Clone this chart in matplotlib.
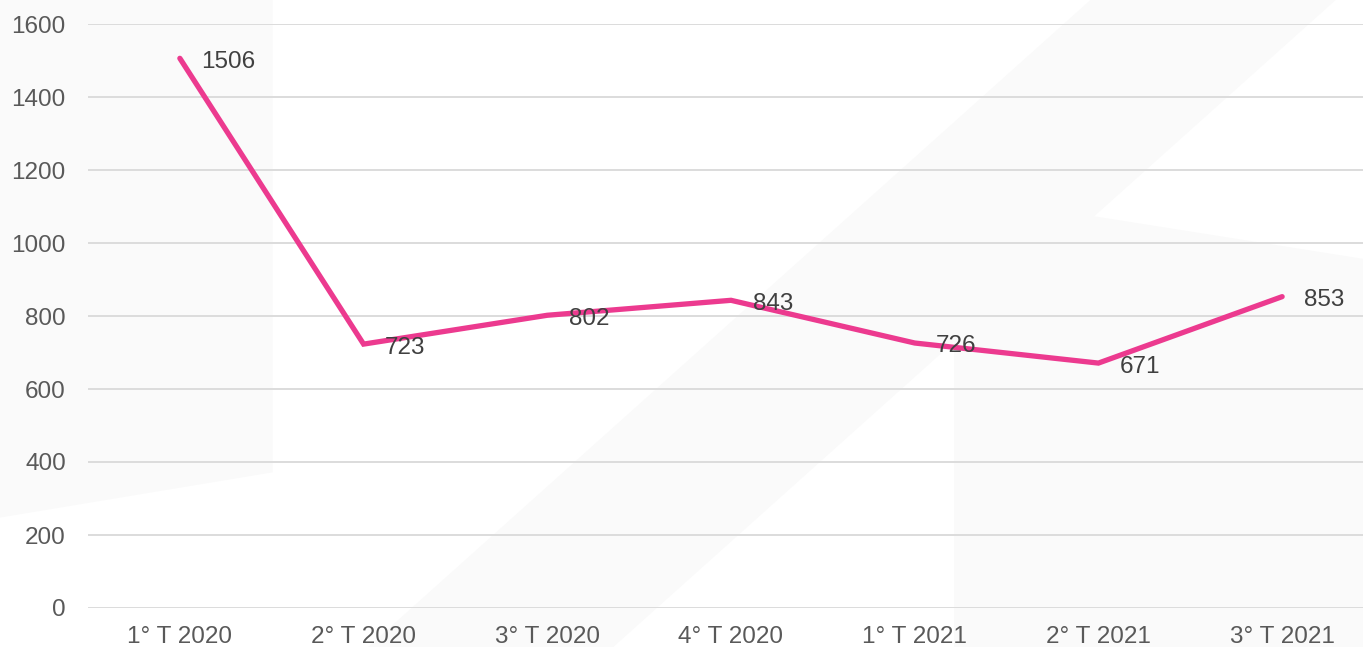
import matplotlib
matplotlib.use("Agg")
import matplotlib.pyplot as plt
from matplotlib.patches import Polygon

categories = ["1° T 2020", "2° T 2020", "3° T 2020", "4° T 2020", "1° T 2021", "2° T 2021", "3° T 2021"]
values = [1506, 723, 802, 843, 726, 671, 853]
yticks = [0, 200, 400, 600, 800, 1000, 1200, 1400, 1600]

plt.rcParams['font.family'] = ['Liberation Sans', 'DejaVu Sans']

fig = plt.figure(figsize=(13.63, 6.47), dpi=100)
fig.patch.set_facecolor('white')

# faint background watermark shapes in a background axes
bg = fig.add_axes([0, 0, 1, 1], zorder=-10)
bg.set_xlim(0, 1)
bg.set_ylim(0, 1)
bg.axis('off')
wm = "#FAFAFA"
bg.add_patch(Polygon([(0, 0.2), (0.2, 0.27), (0.2, 1.0), (0.0, 1.0)], closed=True,
                     facecolor=wm, edgecolor='none'))
bg.add_patch(Polygon([(0.27, 0.0), (0.45, 0.0), (0.98, 1.0), (0.8, 1.0)], closed=True,
                     facecolor=wm, edgecolor='none'))
bg.add_patch(Polygon([(0.70, 0.0), (1.0, 0.0), (1.0, 0.60), (0.70, 0.70)], closed=True,
                     facecolor=wm, edgecolor='none'))

ax = fig.add_axes([88/1363, 39/647, 1286/1363, 584/647], zorder=1)
ax.set_facecolor('none')

x = list(range(len(categories)))
ax.plot(x, values, color="#EC3A8F", linewidth=3.8, solid_capstyle='round',
        solid_joinstyle='miter', zorder=3)

for xi, v in zip(x, values):
    ax.annotate(str(v), (xi, v), xytext=(15.5, -2.5), textcoords='offset points',
                ha='left', va='center', fontsize=17.5, color="#404040", zorder=4)

ax.set_xlim(-0.5, len(categories) - 0.5)
ax.set_ylim(0, 1600)
ax.set_yticks(yticks)
ax.set_yticklabels([str(t) for t in yticks])
ax.set_xticks(x)
ax.set_xticklabels(categories)
ax.tick_params(axis='both', length=0, labelsize=17.5, labelcolor="#595959")
ax.tick_params(axis='y', pad=16)
ax.tick_params(axis='x', pad=13)
ax.grid(axis='y', color="#D9D9D9", linewidth=1.3)
ax.set_axisbelow(True)
for s in ax.spines.values():
    s.set_visible(False)

fig.savefig("out.png", dpi=100, facecolor='white')
